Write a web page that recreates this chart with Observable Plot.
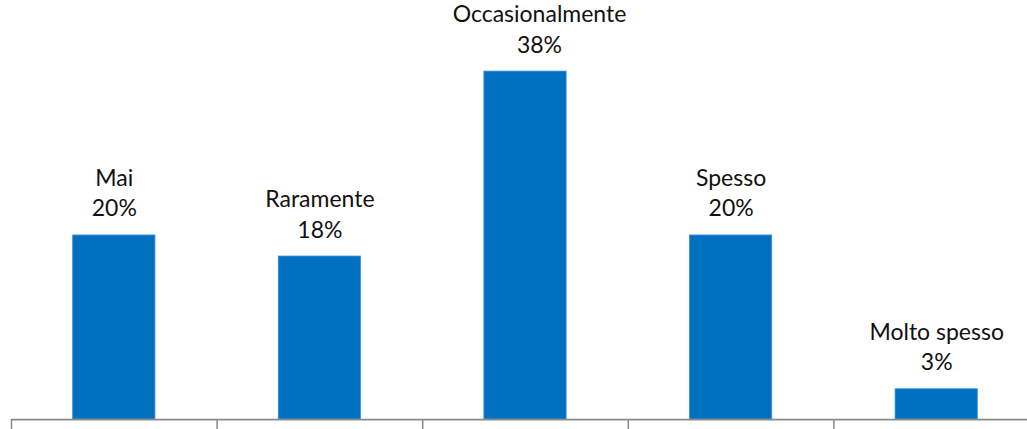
<!DOCTYPE html>
<html>
<head>
<meta charset="utf-8">
<script src="https://cdn.jsdelivr.net/npm/d3@7"></script>
<script src="https://cdn.jsdelivr.net/npm/@observablehq/plot@0.6"></script>
<style>
  html, body { margin: 0; padding: 0; background: #fff; }
  #chart svg { display: block; }
</style>
</head>
<body>
<div id="chart"></div>
<script>
const categories = ["Mai", "Raramente", "Occasionalmente", "Spesso", "Molto spesso"];
const values = [20.1, 17.8, 38.0, 20.1, 3.3];
const valueLabels = ["20%", "18%", "38%", "20%", "3%"];

const data = categories.map((c, i) => ({
  category: c,
  index: i,
  value: values[i],
  label: c + "\n" + valueLabels[i]
}));

const textStyle = {
  x: d => d.index + 0.5,
  y: "value",
  text: "label",
  lineAnchor: "bottom",
  lineHeight: 1.33,
  dy: -19,
  fontSize: 23,
  fill: "#111"
};

const chart = Plot.plot({
  width: 1027,
  height: 429,
  marginLeft: 11,
  marginRight: 0,
  marginTop: 7,
  marginBottom: 10,
  style: { fontFamily: "Lato, 'Open Sans', sans-serif", background: "#fff" },
  x: { domain: [0, 5], range: [11, 1039] },
  y: { domain: [0, 45], axis: null },
  marks: [
    Plot.rectY(data, {
      x1: d => d.index + 0.3,
      x2: d => d.index + 0.7,
      y: "value",
      fill: "#0070C0",
      stroke: "#3f8fd4",
      strokeWidth: 0.8
    }),
    Plot.ruleY([0], { stroke: "#898989", strokeWidth: 1.75 }),
    Plot.axisX({
      ticks: [0, 1, 2, 3, 4, 5],
      tickSize: 10,
      tickFormat: () => "",
      stroke: "#898989",
      strokeWidth: 1.5
    }),
    Plot.text(data.filter(d => d.category !== "Occasionalmente"), textStyle),
    Plot.text(data.filter(d => d.category === "Occasionalmente"), { ...textStyle, dx: 14 })
  ]
});

document.getElementById("chart").appendChild(chart);
</script>
</body>
</html>
